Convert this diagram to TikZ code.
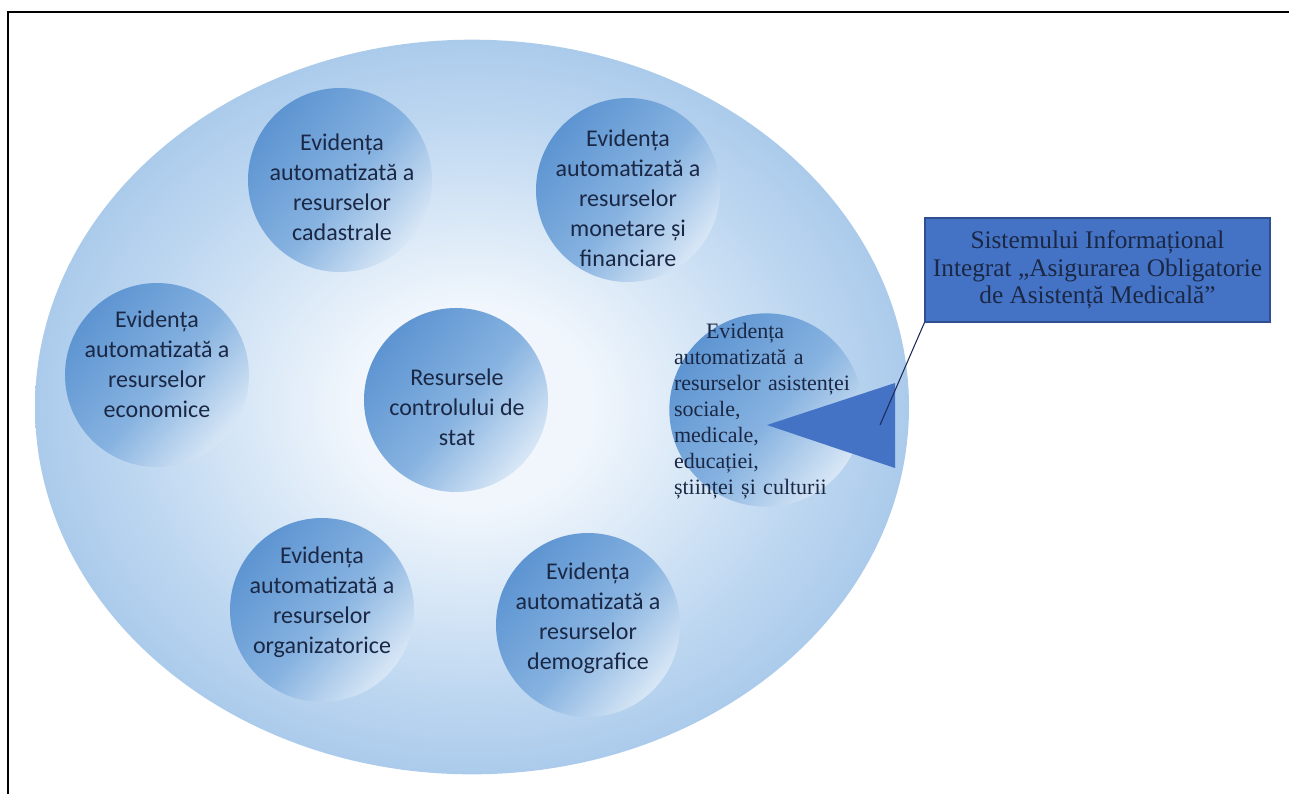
\documentclass[tikz,border=0pt]{standalone}
\usepackage{fontspec}
\usetikzlibrary{shapes.geometric}
\setmainfont{Liberation Serif}
\newfontfamily\calfont{Carlito}
\definecolor{bgA}{HTML}{F0F6FC}
\definecolor{bgB}{HTML}{BCD6F0}
\definecolor{bgC}{HTML}{8DB7E3}
\definecolor{cD}{HTML}{5891D0}
\definecolor{cM}{HTML}{86B2E0}
\definecolor{cL}{HTML}{E3EEF9}
\definecolor{txt}{HTML}{1B2845}
\definecolor{boxfill}{HTML}{4472C4}
\definecolor{boxline}{HTML}{2F4F8F}
\definecolor{linec}{HTML}{1F2A5A}
\pgfdeclareradialshading{outerrad}{\pgfpoint{0bp}{0bp}}{color(0bp)=(bgA); color(7bp)=(bgA); color(20bp)=(bgB); color(34bp)=(bgC); color(100bp)=(bgC)}
\pgfdeclareverticalshading{circsh}{100bp}{color(0bp)=(cL); color(22bp)=(cL); color(48bp)=(cM); color(78bp)=(cD); color(100bp)=(cD)}
\tikzset{
  circ/.style={circle, inner sep=0pt, minimum size=138pt, shading=circsh, shading angle=50},
  circbig/.style={circ, minimum size=145pt},
  ctext/.style={align=center, text=txt, inner sep=0pt, font=\calfont\fontsize{18}{22.5}\selectfont},
  stext/.style={align=left, text=txt, inner sep=0pt, text width=138pt, font=\fontsize{16.5}{19.5}\selectfont},
  callbox/.style={rectangle, fill=boxfill, draw=boxline, line width=0.8pt, minimum width=258.75pt, minimum height=78pt, align=center, inner sep=0pt, text=txt, font=\fontsize{19}{20.6}\selectfont},
  pointer/.style={fill=boxfill},
  leader/.style={draw=linec, line width=0.8pt},
  frame/.style={draw=black, line width=1.6pt}
}
\begin{document}
\begin{tikzpicture}[x=0.75pt, y=-0.75pt]
\useasboundingbox (0,0) rectangle (1289,794);
\draw[frame] (8,794) -- (8,12) -- (1289,12);
% outer ellipse
\node[ellipse, inner sep=0pt, minimum width=655.5pt, minimum height=551pt, shading=outerrad] (outer) at (472,407) {};
% circles
\node[circ] (c1) at (340,180) {};
\node[ctext] (t1) at (342,187) {Evidența\\automatizată a\\resurselor\\cadastrale};
\node[circ] (c2) at (628,190) {};
\node[ctext] (t2) at (628,198) {Evidența\\automatizată a\\resurselor\\monetare și\\financiare};
\node[circ] (c3) at (157,375) {};
\node[ctext] (t3) at (157,364) {Evidența\\automatizată a\\resurselor\\economice};
\node[circ] (c4) at (456,400) {};
\node[ctext] (t4) at (457,407) {Resursele\\controlului de\\stat};
\node[circbig] (c5) at (766,410) {};
\node[stext] (t5) at (766,411) {\hspace*{24pt}Evidența\\automatizată a\\resurselor asistenței\\sociale,\\medicale,\\educației,\\științei și culturii};
\node[circ] (c6) at (322,610) {};
\node[ctext] (t6) at (322,602) {Evidența\\automatizată a\\resurselor\\organizatorice};
\node[circ] (c7) at (588,625) {};
\node[ctext] (t7) at (588,618) {Evidența\\automatizată a\\resurselor\\demografice};
% callout
\fill[pointer] (767,425) -- (895,383) -- (895,468) -- cycle;
\node[callbox] (box) at (1097.5,270) {Sistemului Informațional\\Integrat „Asigurarea Obligatorie\\de Asistență Medicală”};
\coordinate (tip) at (880,425);
\draw[leader] (box.south west) -- (tip);
\end{tikzpicture}
\end{document}
